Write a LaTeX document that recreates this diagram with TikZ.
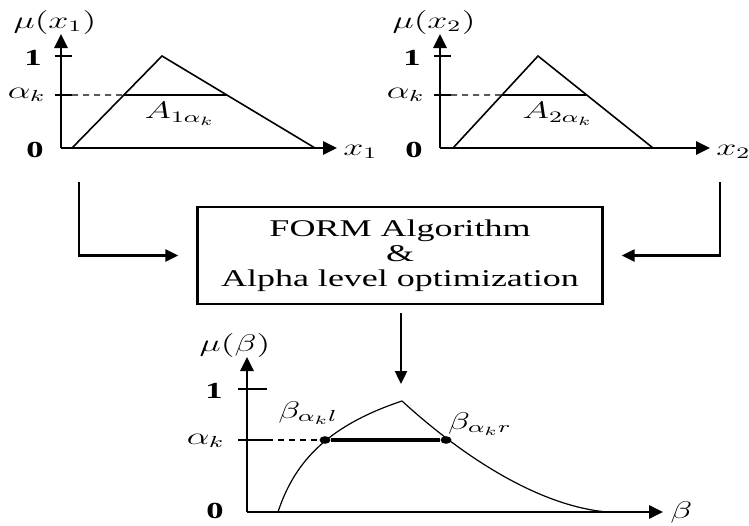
\documentclass[tikz,border=0pt]{standalone}
\usepackage{graphicx}
\usepackage{fontspec}
\setmainfont[FakeStretch=1.5]{Liberation Serif}
\usepackage{tikz}
\usetikzlibrary{positioning,arrows.meta,calc,shapes.geometric}
\newcommand{\widen}[1]{\scalebox{1.5}[1]{#1}}

\begin{document}
\begin{tikzpicture}[x=0.5pt, y=-0.5pt,
  every node/.append style={font=\fontsize{11.5}{13}\selectfont, inner sep=0pt},
  axis/.style={line width=1.4pt, -{Triangle[length=7pt,width=6.5pt]}},
  tickmark/.style={line width=1.4pt},
  memb/.style={line width=0.8pt},
  cutline/.style={line width=1pt},
  guide/.style={line width=0.6pt, dash pattern=on 3pt off 2.5pt},
  flow/.style={line width=1.2pt, -{Triangle[length=6.5pt,width=6pt]}},
  algbox/.style={draw, line width=1.2pt, minimum width=202.5pt, minimum height=48.5pt, align=center, font=\fontsize{12}{12.6}\selectfont},
  dot/.style={ellipse, fill, inner sep=0pt, minimum width=5.5pt, minimum height=3.8pt}
]
\useasboundingbox (0,0) rectangle (749,525);
% fuzzy inputs
\foreach \n/\ox/\tip/\a/\b/\c/\lx in {1/61/337/72/162/315/180, 2/440/710/453/538/653/558} {
  \coordinate (o\n) at (\ox,148);
  \coordinate (yt\n) at (\ox,34);
  \coordinate (xt\n) at (\tip,148);
  \draw[axis] (o\n) -- (yt\n);
  \draw[axis] (o\n) -- (xt\n);
  \draw[tickmark] (\ox-6,56) -- (\ox+11,56);
  \draw[tickmark] (\ox-6,95) -- (\ox+11,95);
  \coordinate (bl\n) at (\a,148);
  \coordinate (ap\n) at (\b,56);
  \coordinate (br\n) at (\c,148);
  \coordinate (cl\n) at ($(bl\n)!0.576!(ap\n)$);
  \coordinate (cr\n) at ($(br\n)!0.576!(ap\n)$);
  \draw[memb] (bl\n) -- (ap\n) -- (br\n);
  \draw[guide] (\ox+11,95) -- (cl\n);
  \draw[cutline] (cl\n) -- (cr\n);
  \node (mu\n) at (\ox-6,22) {\widen{$\mu(x_{\n})$}};
  \node[anchor=east] (one\n) at (\ox-19,58) {\textbf{1}};
  \node[anchor=east] (ak\n) at (\ox-15,95) {\widen{$\alpha_k$}};
  \node[anchor=east] (zero\n) at (\ox-17,150) {\textbf{0}};
  \node (set\n) at (\lx,114) {\widen{$A_{\n\alpha_k}$}};
  \node[anchor=west] (xl\n) at (\tip+6,152) {\widen{$x_{\n}$}};
}
% algorithm
\node[algbox] (alg) at (400,255.5) {FORM Algorithm\\\&\\Alpha level optimization};
\coordinate (inL) at (79,182);
\coordinate (inR) at (720,182);
\coordinate (into) at (401,384);
\draw[flow, shorten >=9pt] (inL) |- (alg.west);
\draw[flow, shorten >=9pt] (inR) |- (alg.east);
\draw[flow, shorten <=4pt] (alg.south -| into) -- (into);
% fuzzy reliability index
\coordinate (ob) at (247,512);
\coordinate (ybt) at (247,357);
\coordinate (xbt) at (663,512);
\draw[axis] (ob) -- (ybt);
\draw[axis] (ob) -- (xbt);
\draw[tickmark] (238,389) -- (267,389);
\draw[tickmark] (238,440) -- (267,440);
\coordinate (pk) at (402,401);
\draw[line width=0.6pt] (278,512) .. controls (295,460) and (330,425) .. (pk);
\draw[line width=0.6pt] (pk) .. controls (450,445) and (530,505) .. (607,512);
\node[dot] (bl) at (325,440) {};
\node[dot] (br) at (446,440) {};
\draw[guide] (267,440) -- (bl);
\draw[line width=1.6pt] (bl) -- (br);
\node (mub) at (235,345) {\widen{$\mu(\beta)$}};
\node[anchor=east] (oneb) at (223,391) {\textbf{1}};
\node[anchor=east] (akb) at (225,441) {\widen{$\alpha_k$}};
\node[anchor=east] (zerob) at (224,511) {\textbf{0}};
\node (bll) at (308,413) {\widen{$\beta_{\alpha_k l}$}};
\node (brl) at (480,424) {\widen{$\beta_{\alpha_k r}$}};
\node[anchor=west] (bxl) at (670,512) {\widen{$\beta$}};
\end{tikzpicture}
\end{document}
